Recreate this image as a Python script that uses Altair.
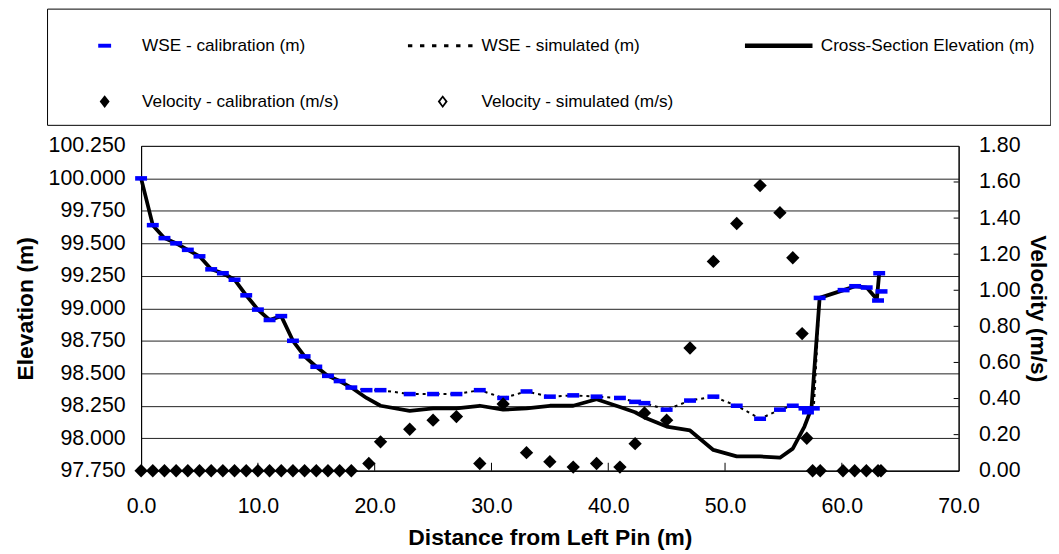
import altair as alt
import pandas as pd

# ---------------- data ----------------
wse_cal_x = [0, 1, 2, 3, 4, 5, 6, 7, 8, 9, 10, 11, 12, 13, 14, 15, 16, 17, 18,
             19.3, 20.5, 23, 25, 27, 29, 31, 33, 35, 37, 39, 41, 42.3, 43.1, 45,
             47, 49, 51, 53, 54.7, 55.8, 56.8, 57.1, 57.6, 58.1, 60.15, 61.14,
             62.13, 63.2, 63.4, 63.1]
wse_cal = [100.00, 99.64, 99.54, 99.50, 99.45, 99.40, 99.30, 99.27, 99.22, 99.10,
           98.99, 98.91, 98.94, 98.75, 98.63, 98.55, 98.48, 98.44, 98.39,
           98.37, 98.37, 98.34, 98.34, 98.34, 98.37, 98.31, 98.36, 98.32, 98.33,
           98.32, 98.31, 98.28, 98.27, 98.22, 98.29, 98.32, 98.25, 98.15, 98.22,
           98.25, 98.23, 98.20, 98.23, 99.08, 99.14, 99.17, 99.16, 99.27, 99.13,
           99.06]

wse_sim_x = [0, 1, 2, 3, 4, 5, 6, 7, 8, 9, 10, 11, 12, 13, 14, 15, 16, 17, 18,
             19.3, 20.5, 23, 25, 27, 29, 31, 33, 35, 37, 39, 41, 42.3, 43.1, 45,
             47, 49, 51, 53, 54.7, 55.8, 56.8, 57.6, 58.1, 60.15, 61.14, 62.13]
wse_sim = [100.00, 99.64, 99.54, 99.50, 99.45, 99.40, 99.30, 99.27, 99.22, 99.10,
           98.99, 98.91, 98.94, 98.75, 98.63, 98.55, 98.48, 98.44, 98.39,
           98.37, 98.37, 98.34, 98.34, 98.34, 98.37, 98.31, 98.36, 98.32, 98.33,
           98.32, 98.31, 98.28, 98.27, 98.22, 98.29, 98.32, 98.25, 98.15, 98.22,
           98.25, 98.23, 98.23, 99.08, 99.14, 99.17, 99.16]

xs_x = [0, 1, 2, 3, 4, 5, 6, 7, 8, 9, 10, 11, 12, 13, 14, 15, 16, 17, 18,
        19.3, 20.5, 23, 25, 27, 29, 31, 33, 35, 37, 39, 41, 42.3, 43.1, 45,
        47, 49, 51, 53, 54.7, 55.8, 56.8, 57.4, 58.1, 60.15, 61.14, 62.13,
        63.0, 63.2]
xs_elev = [100.00, 99.64, 99.54, 99.50, 99.45, 99.40, 99.30, 99.27, 99.22, 99.10,
           98.99, 98.91, 98.94, 98.75, 98.63, 98.55, 98.48, 98.44, 98.39,
           98.31, 98.25, 98.21, 98.23, 98.23, 98.25, 98.22, 98.23, 98.25, 98.25,
           98.30, 98.24, 98.20, 98.16, 98.09, 98.06, 97.91, 97.86, 97.86, 97.85,
           97.92, 98.09, 98.23, 99.08, 99.14, 99.17, 99.16, 99.07, 99.27]

vel_x = [0, 1, 2, 3, 4, 5, 6, 7, 8, 9, 10, 11, 12, 13, 14, 15, 16, 17, 18,
         19.5, 20.5, 23, 25, 27, 29, 31, 33, 35, 37, 39, 41, 42.3, 43.1, 45,
         47, 49, 51, 53, 54.7, 55.8, 56.6, 57.0, 57.5, 58.15, 60.1, 61.1,
         62.1, 63.1, 63.35]
vel_cal = [0, 0, 0, 0, 0, 0, 0, 0, 0, 0, 0, 0, 0, 0, 0, 0, 0, 0, 0,
           0.04, 0.16, 0.23, 0.28, 0.30, 0.04, 0.37, 0.10, 0.05, 0.02, 0.04,
           0.02, 0.15, 0.32, 0.28, 0.68, 1.16, 1.37, 1.58, 1.43, 1.18, 0.76,
           0.18, 0, 0, 0, 0, 0, 0, 0]

x_ticks = [0, 10, 20, 30, 40, 50, 60, 70]
x_inner_ticks = [10, 20, 30, 40, 50, 60]
elev_ticks = [97.75, 98.0, 98.25, 98.5, 98.75, 99.0, 99.25, 99.5, 99.75, 100.0, 100.25]
vel_ticks = [0.0, 0.2, 0.4, 0.6, 0.8, 1.0, 1.2, 1.4, 1.6, 1.8]
vel_inner_ticks = [0.2, 0.4, 0.6, 0.8, 1.0, 1.2, 1.4, 1.6]

# legend entries (filled column by column: 2 rows x 3 columns)
series_names = ["WSE - calibration (m)", "Velocity - calibration (m/s)",
                "WSE - simulated (m)", "Velocity - simulated (m/s)",
                "Cross-Section Elevation (m)"]
series_colors = ["#0000ff", "#000000", "#000000", "#000000", "#000000"]
series_shapes = [
    "M0.66,-0.09H1.25V0.09H0.66Z",
    "M0.955,-0.295L1.182,0L0.955,0.295L0.728,0Z",
    "M-0.694,-0.07H-0.494V0.07H-0.694Z M-0.143,-0.07H0.057V0.07H-0.143Z "
    "M0.408,-0.07H0.608V0.07H0.408Z M0.959,-0.07H1.159V0.07H0.959Z "
    "M1.51,-0.07H1.71V0.07H1.51Z M2.061,-0.07H2.261V0.07H2.061Z",
    "M0.897,-0.295L1.124,0L0.897,0.295L0.67,0Z M0.897,-0.17L0.777,0L0.897,0.17L1.017,0Z",
    "M-0.8,-0.1H2.291V0.1H-0.8Z",
]

# ---------------- layout ----------------
W, H = 823, 327
FONT = "Liberation Sans"

df_cal = pd.DataFrame({"x": wse_cal_x, "y": wse_cal})
df_sim = pd.DataFrame({"x": wse_sim_x, "y": wse_sim, "i": range(len(wse_sim))})
df_xs = pd.DataFrame({"x": xs_x, "y": xs_elev, "i": range(len(xs_elev))})
df_vel = pd.DataFrame({"x": vel_x, "v": vel_cal})
df_xt = pd.DataFrame({"x": x_inner_ticks})
df_vt = pd.DataFrame({"v": vel_inner_ticks})
df_leg = pd.DataFrame({"series": series_names, "x": [0] * 5, "y": [98.0] * 5})

x_scale = alt.Scale(domain=[0, 70], nice=False, zero=False)
yl_scale = alt.Scale(domain=[97.75, 100.25], nice=False, zero=False)
yr_scale = alt.Scale(domain=[0, 1.8], nice=False, zero=True)

x_axis = alt.Axis(title="Distance from Left Pin (m)", values=x_ticks, format=".1f",
                  grid=False, ticks=False, labelPadding=25, titlePadding=10,
                  labelFlush=False, labelOverlap=False)
yl_axis = alt.Axis(title="Elevation (m)", values=elev_ticks, format=".3f",
                   grid=True, gridColor="#222222", gridWidth=1, ticks=False,
                   labelPadding=16, titlePadding=11, labelFlush=False,
                   labelOverlap=False)
yr_axis = alt.Axis(title="Velocity (m/s)", orient="right", values=vel_ticks,
                   format=".2f", grid=False, ticks=False, labelPadding=20,
                   titlePadding=6, labelFlush=False, labelOverlap=False)

X = alt.X("x:Q", scale=x_scale, axis=x_axis)
YL = alt.Y("y:Q", scale=yl_scale, axis=yl_axis)
YR = alt.Y("v:Q", scale=yr_scale, axis=yr_axis)

sim_line = alt.Chart(df_sim).mark_line(color="black", strokeWidth=2,
                                       strokeDash=[3, 4]).encode(
    x=X, y=YL, order="i:Q")
xs_line = alt.Chart(df_xs).mark_line(color="black", strokeWidth=3.8,
                                     strokeJoin="round").encode(
    x=X, y=YL, order="i:Q")
cal_pts = alt.Chart(df_cal).mark_point(
    shape="M-1,-0.38H1V0.38H-1Z", filled=True, size=144, color="#0000ff",
    opacity=1).encode(x=X, y=YL)
x_tick_rules = alt.Chart(df_xt).mark_rule(color="black", strokeWidth=1).encode(
    x=X, y=alt.value(H - 8), y2=alt.value(H))
legend_layer = alt.Chart(df_leg).transform_filter("false").mark_point(
    filled=True, opacity=1).encode(
    x=X, y=YL,
    color=alt.Color("series:N", scale=alt.Scale(domain=series_names, range=series_colors),
                    title=None),
    shape=alt.Shape("series:N", scale=alt.Scale(domain=series_names, range=series_shapes),
                    title=None),
)

left = alt.layer(sim_line, xs_line, cal_pts, x_tick_rules, legend_layer)

vel_pts = alt.Chart(df_vel).mark_point(shape="diamond", filled=True, size=180,
                                       color="black", opacity=1).encode(x=X, y=YR)
vel_tick_rules = alt.Chart(df_vt).mark_rule(color="black", strokeWidth=1).encode(
    y=YR, x=alt.value(W - 5), x2=alt.value(W))
right = alt.layer(vel_tick_rules, vel_pts)

chart = alt.layer(left, right).resolve_scale(y="independent").properties(
    width=W, height=H,
    autosize=alt.AutoSizeParams(type="none"),
    padding={"left": 134, "top": 137, "right": 93, "bottom": 80},
    background="white",
).configure_view(
    stroke="black", strokeWidth=1
).configure_axis(
    labelFont=FONT, titleFont=FONT, labelFontSize=21.5, titleFontSize=23,
    titleFontWeight="bold", labelColor="black", titleColor="black",
    domainColor="black", domainWidth=1,
).configure_legend(
    orient="none", legendX=-94.7, legendY=-138.2, columns=3, gridAlign="all",
    symbolSize=1936, symbolStrokeWidth=0, labelOffset=36.7, labelFont=FONT,
    labelFontSize=17.3, labelColor="black", columnPadding=45.6, rowPadding=25.6,
    padding=15, strokeColor="black", fillColor="white", labelLimit=400,
    symbolOpacity=1,
)

chart.save("out.html", embed_options={"renderer": "svg", "actions": False})
